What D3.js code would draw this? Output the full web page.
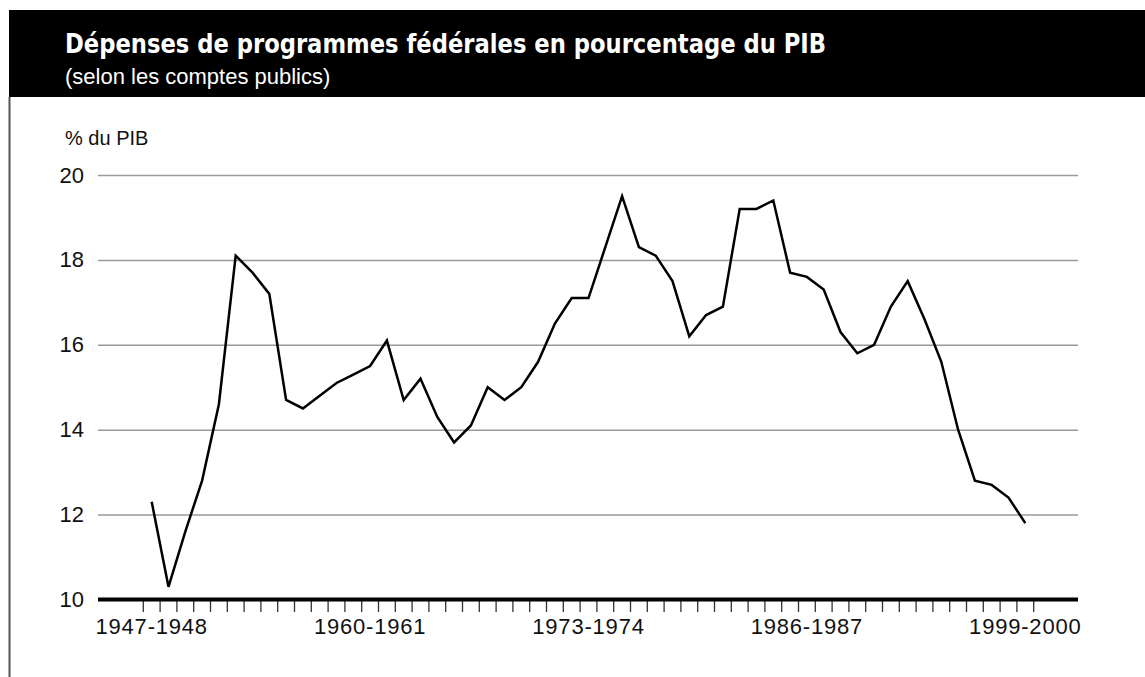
<!DOCTYPE html>
<html>
<head>
<meta charset="utf-8">
<script src="https://cdn.jsdelivr.net/npm/d3@7"></script>
<style>
  body { margin: 0; background: #fff; }
  svg { display: block; }
</style>
</head>
<body>
<div id="chart"></div>
<script>
// fiscal years, 1947-1948 .. 1999-2000
const years = [
  "1947-1948","1948-1949","1949-1950","1950-1951","1951-1952","1952-1953","1953-1954","1954-1955",
  "1955-1956","1956-1957","1957-1958","1958-1959","1959-1960","1960-1961","1961-1962","1962-1963",
  "1963-1964","1964-1965","1965-1966","1966-1967","1967-1968","1968-1969","1969-1970","1970-1971",
  "1971-1972","1972-1973","1973-1974","1974-1975","1975-1976","1976-1977","1977-1978","1978-1979",
  "1979-1980","1980-1981","1981-1982","1982-1983","1983-1984","1984-1985","1985-1986","1986-1987",
  "1987-1988","1988-1989","1989-1990","1990-1991","1991-1992","1992-1993","1993-1994","1994-1995",
  "1995-1996","1996-1997","1997-1998","1998-1999","1999-2000"
];

// program spending, % of GDP
const spending = [
  12.3, 10.3, 11.6, 12.8, 14.6, 18.1, 17.7, 17.2,
  14.7, 14.5, 14.8, 15.1, 15.3, 15.5, 16.1, 14.7,
  15.2, 14.3, 13.7, 14.1, 15.0, 14.7, 15.0, 15.6,
  16.5, 17.1, 17.1, 18.3, 19.5, 18.3, 18.1, 17.5,
  16.2, 16.7, 16.9, 19.2, 19.2, 19.4, 17.7, 17.6,
  17.3, 16.3, 15.8, 16.0, 16.9, 17.5, 16.6, 15.6,
  14.0, 12.8, 12.7, 12.4, 11.8
];

const xLabels = ["1947-1948", "1960-1961", "1973-1974", "1986-1987", "1999-2000"];
const yTicks = [10, 12, 14, 16, 18, 20];

const width = 1145, height = 677;
const plotLeft = 98, plotRight = 1078;

let svg = d3.select("#chart")
  .append("svg")
  .attr("width", width)
  .attr("height", height);

// header band
svg.append("rect")
  .attr("x", 9)
  .attr("y", 10)
  .attr("width", width - 9)
  .attr("height", 87)
  .attr("fill", "#000");

// left frame line
svg.append("line")
  .attr("x1", 9.5).attr("x2", 9.5)
  .attr("y1", 97).attr("y2", height)
  .attr("stroke", "#555")
  .attr("stroke-width", 2);

svg.append("text")
  .attr("x", 65)
  .attr("y", 53)
  .attr("fill", "#fff")
  .attr("font-family", "'Liberation Sans Narrow', 'DejaVu Sans Condensed', 'Liberation Sans', sans-serif")
  .attr("font-weight", "bold")
  .attr("font-size", 26)
  .attr("textLength", 761)
  .attr("lengthAdjust", "spacingAndGlyphs")
  .text("Dépenses de programmes fédérales en pourcentage du PIB");

svg.append("text")
  .attr("x", 65)
  .attr("y", 84)
  .attr("fill", "#fff")
  .attr("font-family", "'Liberation Sans', Arial, sans-serif")
  .attr("font-size", 22)
  .text("(selon les comptes publics)");

// scales
let x = d3.scaleBand()
  .domain(years)
  .range([143.3, 1033.7])
  .padding(0);

let y = d3.scaleLinear()
  .domain([10, 20])
  .range([599.5, 175]);

// y axis + gridlines
let yAxis = svg.append("g")
  .attr("transform", `translate(${plotLeft}, 0)`)
  .call(d3.axisLeft(y).tickValues(yTicks).tickSize(-(plotRight - plotLeft)).tickPadding(14).tickFormat(d3.format("d")));
yAxis.select(".domain").remove();
yAxis.selectAll(".tick line")
  .attr("stroke", "#9a9a9a")
  .attr("stroke-width", 1.5);
yAxis.selectAll(".tick text")
  .attr("font-family", "'Liberation Sans', Arial, sans-serif")
  .attr("font-size", 22)
  .attr("fill", "#111");

svg.append("text")
  .attr("x", 65)
  .attr("y", 145)
  .attr("font-family", "'Liberation Sans', Arial, sans-serif")
  .attr("font-size", 20)
  .attr("fill", "#111")
  .text("% du PIB");

// year ticks at band boundaries
let bounds = years.map(d => x(d)).concat([x.range()[1]]);
svg.append("g")
  .selectAll("line")
  .data(bounds)
  .enter()
  .append("line")
  .attr("x1", d => d).attr("x2", d => d)
  .attr("y1", 600).attr("y2", 612)
  .attr("stroke", "#333")
  .attr("stroke-width", 1.3);

// thick baseline at 10
svg.append("line")
  .attr("x1", plotLeft).attr("x2", plotRight)
  .attr("y1", y(10)).attr("y2", y(10))
  .attr("stroke", "#000")
  .attr("stroke-width", 4);

// x labels
let xAxis = svg.append("g")
  .attr("transform", `translate(0, 612)`)
  .call(d3.axisBottom(x).tickValues(xLabels).tickSize(0).tickPadding(6));
xAxis.select(".domain").remove();
xAxis.selectAll(".tick text")
  .attr("font-family", "'Liberation Sans', Arial, sans-serif")
  .attr("font-size", 22)
  .attr("letter-spacing", 0.8)
  .attr("fill", "#111");

// the line
let data = years.map((d, i) => ({year: d, value: spending[i]}));
svg.append("path")
  .datum(data)
  .attr("fill", "none")
  .attr("stroke", "#000")
  .attr("stroke-width", 2.5)
  .attr("stroke-linejoin", "miter")
  .attr("d", d3.line()
    .x(d => x(d.year) + x.bandwidth() / 2)
    .y(d => y(d.value)));
</script>
</body>
</html>
